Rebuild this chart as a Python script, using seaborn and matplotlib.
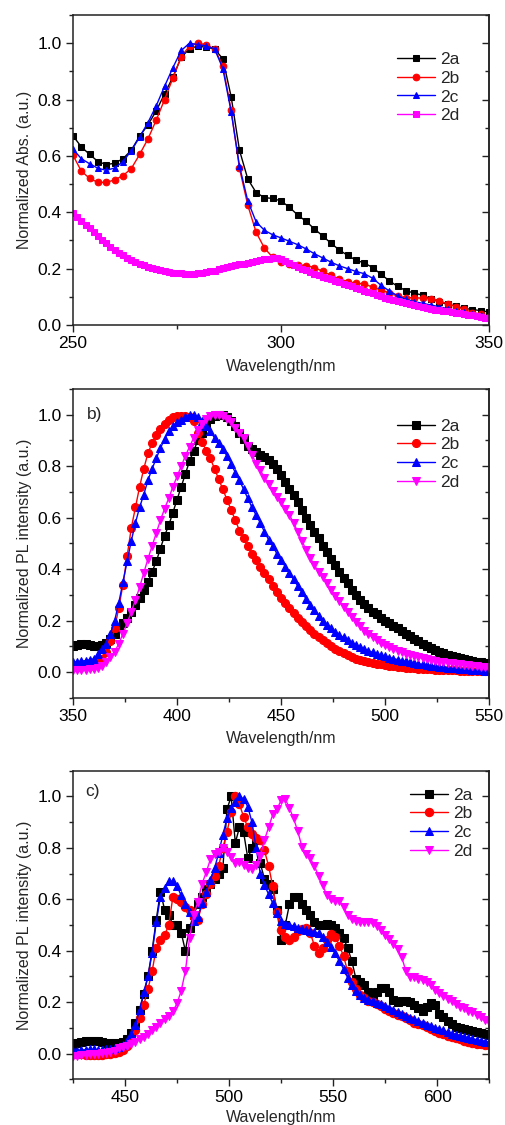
import numpy as np
import matplotlib
matplotlib.use("Agg")
import matplotlib.pyplot as plt
from matplotlib.ticker import AutoMinorLocator, MultipleLocator
import seaborn as sns

# panel a: absorption, 2a-2c every 2 nm, 2d every 1 nm
abs_x_start, abs_x_step = 250, 2
abs_2a = [0.671, 0.632, 0.605, 0.580, 0.569, 0.574, 0.590, 0.620, 0.670, 0.710,
          0.760, 0.820, 0.880, 0.950, 0.980, 0.990, 0.985, 0.980, 0.944, 0.810,
          0.620, 0.518, 0.470, 0.452, 0.449, 0.440, 0.418, 0.390, 0.368, 0.341,
          0.316, 0.290, 0.266, 0.247, 0.230, 0.220, 0.204, 0.180, 0.157, 0.137,
          0.122, 0.113, 0.106, 0.093, 0.082, 0.074, 0.067, 0.059, 0.055, 0.051,
          0.046]
abs_2b = [0.602, 0.546, 0.520, 0.506, 0.506, 0.515, 0.530, 0.555, 0.605, 0.660,
          0.727, 0.800, 0.876, 0.952, 0.990, 1.000, 0.994, 0.980, 0.920, 0.762,
          0.556, 0.425, 0.329, 0.273, 0.240, 0.224, 0.218, 0.214, 0.211, 0.204,
          0.190, 0.176, 0.164, 0.154, 0.148, 0.146, 0.134, 0.125, 0.113, 0.103,
          0.097, 0.097, 0.095, 0.093, 0.086, 0.075, 0.065, 0.056, 0.044, 0.039,
          0.030]
abs_2c = [0.624, 0.590, 0.572, 0.556, 0.549, 0.557, 0.580, 0.618, 0.667, 0.718,
          0.778, 0.847, 0.913, 0.974, 1.000, 0.995, 0.990, 0.980, 0.910, 0.757,
          0.564, 0.440, 0.366, 0.336, 0.320, 0.309, 0.297, 0.285, 0.270, 0.253,
          0.238, 0.223, 0.210, 0.200, 0.190, 0.182, 0.166, 0.141, 0.121, 0.104,
          0.091, 0.083, 0.077, 0.071, 0.065, 0.058, 0.051, 0.045, 0.039, 0.036,
          0.030]
abs_2d = [0.398, 0.384, 0.370, 0.356, 0.343, 0.330, 0.316, 0.303, 0.290, 0.278,
          0.266, 0.256, 0.247, 0.239, 0.231, 0.224, 0.218, 0.212, 0.206, 0.201,
          0.197, 0.194, 0.191, 0.188, 0.186, 0.184, 0.183, 0.182, 0.182, 0.182,
          0.183, 0.185, 0.187, 0.190, 0.193, 0.197, 0.201, 0.205, 0.209, 0.212,
          0.215, 0.218, 0.221, 0.224, 0.227, 0.230, 0.233, 0.235, 0.237, 0.238,
          0.234, 0.228, 0.221, 0.214, 0.207, 0.200, 0.194, 0.188, 0.182, 0.177,
          0.172, 0.167, 0.162, 0.157, 0.152, 0.147, 0.142, 0.137, 0.132, 0.127,
          0.122, 0.117, 0.112, 0.107, 0.102, 0.097, 0.093, 0.089, 0.085, 0.081,
          0.077, 0.073, 0.070, 0.067, 0.064, 0.061, 0.058, 0.055, 0.053, 0.050,
          0.048, 0.046, 0.043, 0.041, 0.039, 0.036, 0.034, 0.031, 0.029, 0.026,
          0.024]

# panel b: PL, 350-550 nm every 2 nm
pl_x_start, pl_x_step = 350, 2
pl_2a = [0.100, 0.105, 0.110, 0.110, 0.105, 0.100, 0.100, 0.105, 0.115, 0.130,
         0.150, 0.170, 0.190, 0.210, 0.235, 0.260, 0.290, 0.320, 0.350, 0.390,
         0.430, 0.480, 0.530, 0.570, 0.620, 0.670, 0.720, 0.770, 0.820, 0.860,
         0.900, 0.930, 0.960, 0.985, 0.995, 1.000, 1.000, 0.990, 0.975, 0.955,
         0.930, 0.905, 0.880, 0.865, 0.855, 0.845, 0.835, 0.825, 0.810, 0.790,
         0.765, 0.740, 0.710, 0.690, 0.660, 0.630, 0.600, 0.570, 0.545, 0.520,
         0.490, 0.465, 0.440, 0.415, 0.390, 0.365, 0.345, 0.320, 0.300, 0.280,
         0.265, 0.250, 0.235, 0.225, 0.210, 0.200, 0.190, 0.180, 0.170, 0.160,
         0.150, 0.140, 0.130, 0.120, 0.110, 0.100, 0.095, 0.088, 0.080, 0.074,
         0.068, 0.063, 0.058, 0.054, 0.050, 0.047, 0.044, 0.041, 0.038, 0.036,
         0.034]
pl_2b = [0.020, 0.020, 0.022, 0.024, 0.026, 0.030, 0.038, 0.050, 0.080, 0.120,
         0.170, 0.250, 0.340, 0.450, 0.560, 0.640, 0.720, 0.790, 0.850, 0.890,
         0.920, 0.945, 0.965, 0.980, 0.990, 0.995, 0.995, 0.995, 0.990, 0.975,
         0.930, 0.895, 0.860, 0.830, 0.790, 0.750, 0.710, 0.670, 0.630, 0.590,
         0.550, 0.520, 0.490, 0.460, 0.435, 0.410, 0.385, 0.360, 0.335, 0.310,
         0.290, 0.270, 0.250, 0.230, 0.210, 0.195, 0.180, 0.165, 0.150, 0.135,
         0.125, 0.113, 0.100, 0.090, 0.082, 0.074, 0.066, 0.059, 0.053, 0.048,
         0.044, 0.040, 0.036, 0.033, 0.030, 0.028, 0.026, 0.024, 0.022, 0.020,
         0.018, 0.016, 0.015, 0.014, 0.013, 0.012, 0.011, 0.010, 0.010, 0.009,
         0.008, 0.008, 0.007, 0.006, 0.006, 0.005, 0.005, 0.004, 0.004, 0.003,
         0.003]
pl_2c = [0.040, 0.041, 0.043, 0.045, 0.048, 0.052, 0.070, 0.090, 0.110, 0.150,
         0.200, 0.270, 0.350, 0.430, 0.510, 0.580, 0.640, 0.690, 0.745, 0.790,
         0.830, 0.870, 0.905, 0.935, 0.955, 0.970, 0.980, 0.990, 1.000, 1.000,
         0.990, 0.975, 0.955, 0.935, 0.910, 0.890, 0.865, 0.840, 0.810, 0.775,
         0.745, 0.710, 0.675, 0.640, 0.610, 0.580, 0.545, 0.515, 0.490, 0.460,
         0.435, 0.410, 0.385, 0.360, 0.335, 0.310, 0.285, 0.260, 0.240, 0.220,
         0.200, 0.185, 0.170, 0.155, 0.145, 0.135, 0.125, 0.115, 0.105, 0.097,
         0.090, 0.083, 0.077, 0.071, 0.066, 0.061, 0.057, 0.053, 0.049, 0.045,
         0.042, 0.039, 0.036, 0.033, 0.030, 0.028, 0.026, 0.024, 0.022, 0.020,
         0.018, 0.017, 0.015, 0.014, 0.012, 0.011, 0.010, 0.008, 0.007, 0.006,
         0.005]
pl_2d = [0.010, 0.010, 0.010, 0.010, 0.012, 0.014, 0.016, 0.025, 0.040, 0.058,
         0.080, 0.110, 0.150, 0.190, 0.235, 0.280, 0.330, 0.385, 0.440, 0.490,
         0.540, 0.590, 0.635, 0.675, 0.720, 0.760, 0.800, 0.840, 0.875, 0.910,
         0.940, 0.965, 0.985, 0.995, 1.000, 1.000, 0.995, 0.985, 0.970, 0.950,
         0.930, 0.910, 0.880, 0.845, 0.810, 0.785, 0.755, 0.730, 0.705, 0.680,
         0.660, 0.635, 0.610, 0.580, 0.545, 0.510, 0.475, 0.445, 0.415, 0.390,
         0.370, 0.345, 0.320, 0.297, 0.275, 0.255, 0.235, 0.215, 0.195, 0.178,
         0.160, 0.147, 0.135, 0.124, 0.114, 0.105, 0.097, 0.090, 0.083, 0.077,
         0.072, 0.067, 0.062, 0.058, 0.054, 0.050, 0.047, 0.044, 0.041, 0.039,
         0.037, 0.035, 0.033, 0.031, 0.029, 0.027, 0.025, 0.023, 0.021, 0.019,
         0.018]

# panel c: PL, 425-625 nm every 2 nm
pc_x_start, pc_x_step = 425, 2
pc_2a = [0.035, 0.040, 0.045, 0.048, 0.050, 0.050, 0.050, 0.047, 0.043, 0.040,
         0.040, 0.042, 0.045, 0.055, 0.080, 0.120, 0.170, 0.230, 0.300, 0.400,
         0.520, 0.630, 0.560, 0.540, 0.500, 0.500, 0.470, 0.400, 0.490, 0.540,
         0.580, 0.610, 0.640, 0.660, 0.680, 0.700, 0.720, 0.950, 1.000, 0.820,
         0.880, 0.860, 0.760, 0.800, 0.830, 0.740, 0.680, 0.660, 0.640, 0.560,
         0.440, 0.500, 0.580, 0.610, 0.610, 0.580, 0.560, 0.540, 0.510, 0.500,
         0.500, 0.505, 0.500, 0.490, 0.470, 0.450, 0.410, 0.360, 0.290, 0.280,
         0.265, 0.240, 0.225, 0.240, 0.255, 0.255, 0.240, 0.210, 0.200, 0.205,
         0.205, 0.200, 0.190, 0.178, 0.165, 0.180, 0.195, 0.190, 0.155, 0.142,
         0.125, 0.115, 0.105, 0.100, 0.095, 0.090, 0.086, 0.083, 0.080, 0.076,
         0.071]
pc_2b = [0.000, 0.000, -0.003, -0.005, -0.005, -0.005, -0.005, -0.004, -0.002, 0.000,
         0.003, 0.008, 0.015, 0.030, 0.055, 0.090, 0.140, 0.190, 0.250, 0.320,
         0.410, 0.440, 0.460, 0.500, 0.610, 0.600, 0.590, 0.570, 0.560, 0.530,
         0.520, 0.580, 0.620, 0.660, 0.690, 0.730, 0.800, 0.860, 0.940, 1.000,
         0.970, 0.920, 0.880, 0.855, 0.840, 0.830, 0.790, 0.730, 0.650, 0.550,
         0.480, 0.455, 0.440, 0.455, 0.475, 0.485, 0.490, 0.470, 0.420, 0.390,
         0.410, 0.440, 0.465, 0.455, 0.420, 0.380, 0.320, 0.280, 0.250, 0.228,
         0.215, 0.205, 0.200, 0.194, 0.185, 0.172, 0.165, 0.157, 0.150, 0.145,
         0.138, 0.130, 0.120, 0.115, 0.110, 0.104, 0.097, 0.088, 0.082, 0.076,
         0.070, 0.065, 0.060, 0.056, 0.050, 0.045, 0.042, 0.039, 0.036, 0.034,
         0.032]
pc_2c = [0.010, 0.012, 0.014, 0.015, 0.016, 0.016, 0.015, 0.015, 0.016, 0.018,
         0.020, 0.025, 0.035, 0.050, 0.075, 0.110, 0.170, 0.240, 0.300, 0.390,
         0.510, 0.610, 0.645, 0.670, 0.670, 0.650, 0.615, 0.580, 0.550, 0.515,
         0.530, 0.585, 0.630, 0.675, 0.720, 0.780, 0.850, 0.915, 0.955, 0.980,
         1.000, 0.990, 0.960, 0.900, 0.800, 0.700, 0.655, 0.620, 0.585, 0.545,
         0.515, 0.505, 0.500, 0.497, 0.490, 0.485, 0.480, 0.475, 0.472, 0.468,
         0.455, 0.435, 0.414, 0.390, 0.360, 0.330, 0.295, 0.265, 0.245, 0.228,
         0.218, 0.210, 0.204, 0.198, 0.192, 0.184, 0.176, 0.168, 0.162, 0.154,
         0.146, 0.139, 0.133, 0.126, 0.119, 0.112, 0.106, 0.100, 0.095, 0.090,
         0.084, 0.078, 0.074, 0.070, 0.066, 0.062, 0.058, 0.054, 0.050, 0.047,
         0.045]
pc_2d = [-0.010, -0.008, -0.006, -0.004, -0.002, 0.000, 0.000, 0.002, 0.004, 0.007,
         0.012, 0.020, 0.026, 0.030, 0.036, 0.045, 0.055, 0.065, 0.075, 0.090,
         0.105, 0.120, 0.135, 0.148, 0.165, 0.195, 0.245, 0.320, 0.450, 0.540,
         0.590, 0.660, 0.705, 0.755, 0.775, 0.785, 0.800, 0.785, 0.765, 0.740,
         0.745, 0.735, 0.722, 0.718, 0.735, 0.770, 0.830, 0.880, 0.930, 0.950,
         0.985, 0.990, 0.955, 0.915, 0.865, 0.805, 0.775, 0.760, 0.730, 0.690,
         0.655, 0.615, 0.600, 0.595, 0.595, 0.570, 0.540, 0.522, 0.517, 0.513,
         0.511, 0.511, 0.508, 0.498, 0.482, 0.462, 0.445, 0.425, 0.405, 0.375,
         0.320, 0.297, 0.297, 0.292, 0.285, 0.278, 0.265, 0.248, 0.236, 0.224,
         0.214, 0.204, 0.193, 0.183, 0.176, 0.167, 0.160, 0.152, 0.142, 0.132,
         0.123]

labels = ["2a", "2b", "2c", "2d"]
colors = ["#000000", "#FF0000", "#0000FF", "#FF00FF"]

sns.set_style("ticks")
plt.rcParams["font.family"] = ["Liberation Sans", "DejaVu Sans"]


def xs(start, step, vals):
    return start + step * np.arange(len(vals))


def style_axes(ax, xlim, ylim, xmajor, ylabel, xpad):
    ax.set_xlim(*xlim)
    ax.xaxis.set_major_locator(MultipleLocator(xmajor))
    ax.xaxis.set_minor_locator(AutoMinorLocator(2))
    ax.yaxis.set_minor_locator(AutoMinorLocator(2))
    ax.set_yticks([0.0, 0.2, 0.4, 0.6, 0.8, 1.0])
    ax.set_ylim(*ylim)
    ax.tick_params(which="major", direction="out", length=5, width=1,
                   labelsize=12.5, pad=3, colors="#222222", labelcolor="black")
    ax.tick_params(which="minor", direction="out", length=3, width=1,
                   colors="#222222")
    ax.set_xlabel("Wavelength/nm", fontsize=11.5, labelpad=xpad)
    ax.set_ylabel(ylabel, fontsize=11.5)
    for sp in ax.spines.values():
        sp.set_linewidth(1.1)
        sp.set_color("#222222")
    sec = ax.secondary_yaxis("right")
    sec.yaxis.set_major_locator(MultipleLocator(0.2))
    sec.yaxis.set_minor_locator(AutoMinorLocator(2))
    sec.tick_params(which="major", direction="in", length=5, width=1,
                    labelright=False, colors="#222222")
    sec.tick_params(which="minor", direction="in", length=3, width=1,
                    colors="#222222")
    sec.spines["right"].set_linewidth(1.1)


def add_legend(ax, anchor):
    ax.legend(loc="upper left", bbox_to_anchor=anchor, frameon=False,
              borderpad=0, borderaxespad=0, handlelength=2.2, handletextpad=0.3,
              labelspacing=0.2, fontsize=12.5)


fig = plt.figure(figsize=(5.05, 11.25), dpi=100)
left, width = 0.1446, 0.824
ax_a = fig.add_axes([left, 0.7111, width, 0.2756])
ax_b = fig.add_axes([left, 0.3796, width, 0.2747])
ax_c = fig.add_axes([left, 0.0406, width, 0.2743])

# panel a
abs_markers = ["s", "o", "^"]
for vals, lab, col, mk in zip([abs_2a, abs_2b, abs_2c], labels[:3], colors[:3], abs_markers):
    sns.lineplot(x=xs(abs_x_start, abs_x_step, vals), y=vals, ax=ax_a, color=col,
                 marker=mk, markersize=4.8, markeredgecolor=col, linewidth=1,
                 label=lab, sort=False, estimator=None)
sns.lineplot(x=xs(abs_x_start, 1, abs_2d), y=abs_2d, ax=ax_a, color=colors[3],
             marker="s", markersize=4.8, markeredgecolor=colors[3], linewidth=1,
             label=labels[3], sort=False, estimator=None)
style_axes(ax_a, (250, 350), (0, 1.1), 50, "Normalized Abs. (a.u.)", 6)
add_legend(ax_a, (0.779, 0.88))

# panel b
pl_markers = ["s", "o", "^", "v"]
for vals, lab, col, mk in zip([pl_2a, pl_2b, pl_2c, pl_2d], labels, colors, pl_markers):
    sns.lineplot(x=xs(pl_x_start, pl_x_step, vals), y=vals, ax=ax_b, color=col,
                 marker=mk, markersize=5.8, markeredgecolor=col, linewidth=1,
                 label=lab, sort=False, estimator=None)
style_axes(ax_b, (350, 550), (-0.1, 1.1), 50, "Normalized PL intensity (a.u.)", 5)
add_legend(ax_b, (0.779, 0.904))
ax_b.text(0.034, 0.917, "b)", transform=ax_b.transAxes, fontsize=12.5,
          ha="left", va="center")

# panel c
for vals, lab, col, mk in zip([pc_2a, pc_2b, pc_2c, pc_2d], labels, colors, pl_markers):
    sns.lineplot(x=xs(pc_x_start, pc_x_step, vals), y=vals, ax=ax_c, color=col,
                 marker=mk, markersize=6, markeredgecolor=col, linewidth=1,
                 label=lab, sort=False, estimator=None)
style_axes(ax_c, (425, 625), (-0.1, 1.1), 50, "Normalized PL intensity (a.u.)", 3)
add_legend(ax_c, (0.81, 0.945))
ax_c.text(0.03, 0.932, "c)", transform=ax_c.transAxes, fontsize=12.5,
          ha="left", va="center")

fig.savefig("out.png", dpi=100)
plt.close(fig)
